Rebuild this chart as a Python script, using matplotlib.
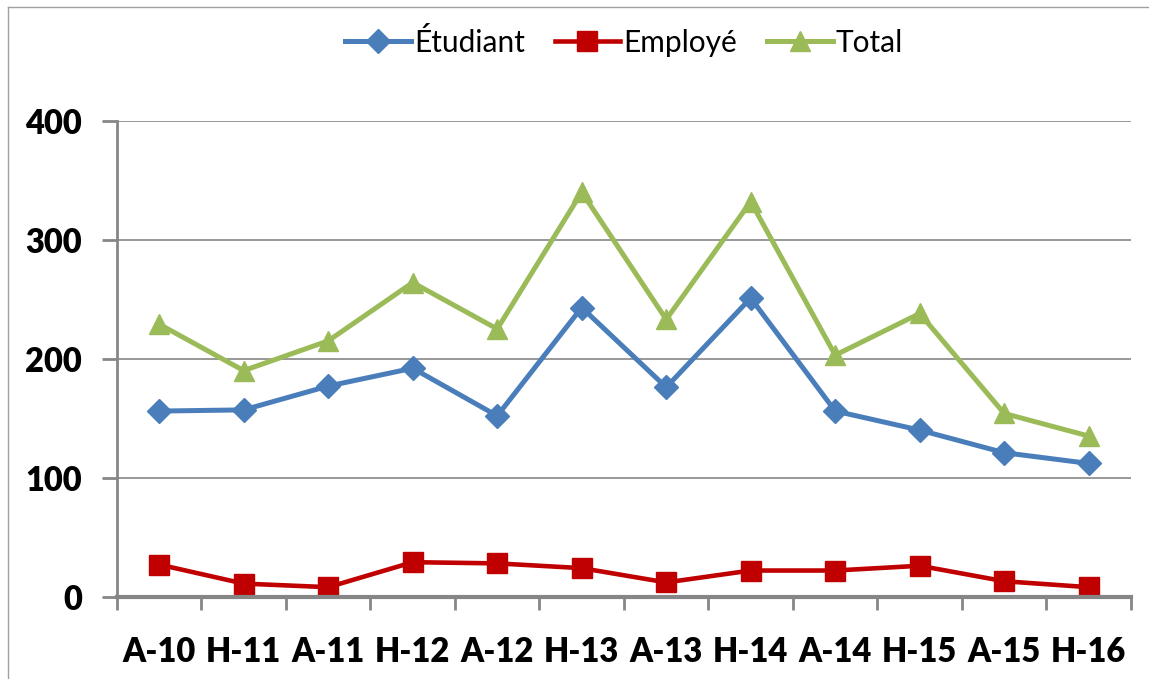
import matplotlib.pyplot as plt
from matplotlib.lines import Line2D

periods = ["A-10", "H-11", "A-11", "H-12", "A-12", "H-13",
           "A-13", "H-14", "A-14", "H-15", "A-15", "H-16"]
etudiant = [156, 157, 177, 192, 152, 243, 176, 251, 156, 140, 121, 112]
employe = [27, 11, 8, 29, 28, 24, 12, 22, 22, 26, 13, 8]
total = [229, 190, 215, 264, 225, 340, 233, 332, 203, 238, 154, 135]

plt.rcParams["font.family"] = ["Lato", "DejaVu Sans"]
grey = "#868686"

fig = plt.figure(figsize=(11.49, 6.79), dpi=100)
ax = fig.add_axes([0.1018, 0.1212, 0.8825, 0.701])

x = list(range(len(periods)))
ax.plot(x, etudiant, color="#4A7EBB", lw=3.6, marker="D", ms=12, label="Étudiant")
ax.plot(x, employe, color="#C00000", lw=3.3, marker="s", ms=14, label="Employé")
ax.plot(x, total, color="#9BBB59", lw=3.6, marker="^", ms=15, label="Total")

ax.set_xlim(-0.5, len(periods) - 0.5)
ax.set_ylim(0, 400)
ax.set_yticks([0, 100, 200, 300, 400])
ax.set_xticks([i - 0.5 for i in range(len(periods) + 1)])
ax.set_xticklabels([])
ax.set_xticks(x, minor=True)
ax.set_xticklabels(periods, minor=True, fontsize=23.5, fontweight="heavy")
ax.tick_params(axis="x", which="minor", length=0, pad=28)
ax.tick_params(axis="x", which="major", direction="out", length=9, width=2, color=grey)
ax.tick_params(axis="y", direction="out", length=11, width=2, color=grey, pad=14,
               labelsize=23.5)
for lab in ax.get_yticklabels():
    lab.set_fontweight("heavy")

ax.grid(axis="y", color=grey, lw=1.2)
ax.set_axisbelow(True)
for side in ["top", "right"]:
    ax.spines[side].set_visible(False)
ax.spines["left"].set_color(grey)
ax.spines["left"].set_linewidth(2)
ax.spines["bottom"].set_color(grey)
ax.spines["bottom"].set_linewidth(3)

ax.legend(loc="center", bbox_to_anchor=(0.5, 1.165), ncol=3, frameon=False,
          fontsize=21.5, handlelength=2.2, handletextpad=0.1, columnspacing=1.0)

# chart frame (left and top edges only visible)
fig.add_artist(Line2D([8 / 1149, 8 / 1149], [0, 1 - 7 / 679],
                      transform=fig.transFigure, color="#a0a0a0", lw=1))
fig.add_artist(Line2D([8 / 1149, 1], [1 - 7 / 679, 1 - 7 / 679],
                      transform=fig.transFigure, color="#a0a0a0", lw=1))

fig.savefig("out.png", dpi=100)
